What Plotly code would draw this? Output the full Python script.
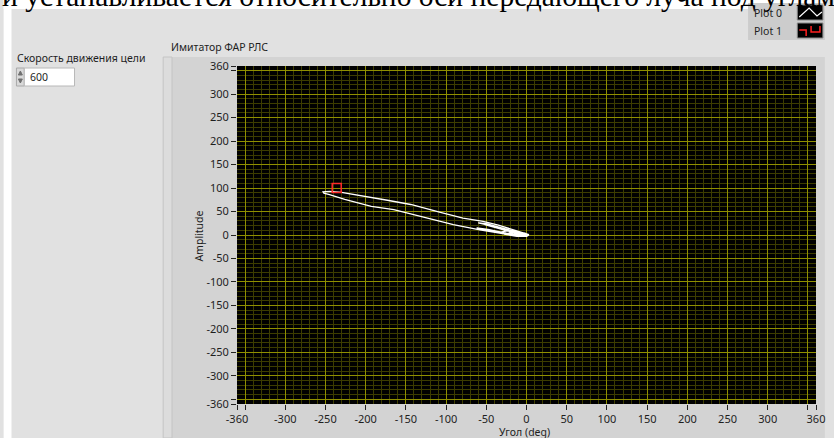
import plotly.graph_objects as go

# ---------------- data ----------------
plot0_x = [3, -10, -22, -35, -54, -79, -107, -144, -173, -205, -230, -245, -253, -252, -245, -226,
           -193, -165, -128, -91, -58, -40, -22, -8, 0, 3,
           -2, -20, -45, -60, -50, -30, -10, 0, -15, -38, -62, -48, -25, -8, 2, -5, -30, -52,
           -40, -18, -3, 3, -6, -14, -24, -32, -20, -10, 1, -4, -16, -28, -12, 2]
plot0_y = [1, 8, 15, 21, 29, 36, 48, 65, 74, 84, 91, 93, 92, 89, 86, 76,
           61, 54, 38, 22, 11, 6, 1, -3, -3, 0,
           4, 10, 20, 26, 24, 15, 5, 1, 2, 6, 15, 12, 4, -1, -2, 3, 12, 22,
           17, 6, -1, 1, 4, 7, 9, 6, 2, -2, 0, 3, 6, 2, -3, -1]
plot1_x = [-236]
plot1_y = [100]

x_tickvals = [-360, -350, -300, -250, -200, -150, -100, -50, 0, 50, 100, 150, 200, 250, 300, 350, 360]
x_ticktext = ["-360", "", "-300", "-250", "-200", "-150", "-100", "-50", "0", "50", "100",
              "150", "200", "250", "300", "", "360"]
y_tickvals = x_tickvals
y_ticktext = x_ticktext

# ---------------- layout helpers ----------------
W, H = 834, 438
L, R, T, B = 237, 825, 66, 404
def X(px):
    return (px - L) / (R - L)
def Y(py):
    return (B - py) / (B - T)

FONT = "Noto Sans"
TXT = "#1e1e1e"

fig = go.Figure()
fig.add_trace(go.Scatter(x=plot0_x, y=plot0_y, mode="lines", name="Plot 0",
                         line=dict(color="white", width=1.3), showlegend=False))
fig.add_trace(go.Scatter(x=plot1_x, y=plot1_y, mode="markers", name="Plot 1",
                         marker=dict(symbol="square-open", size=9, color="#ff2a2a",
                                     line=dict(width=1.5, color="#ff2a2a")),
                         showlegend=False))

shapes = []
def rect(x0, y0, x1, y1, fill, line=None, lw=0):
    shapes.append(dict(type="rect", xref="paper", yref="paper", layer="below",
                       x0=X(x0), x1=X(x1), y0=Y(y0), y1=Y(y1), fillcolor=fill,
                       line=dict(color=line or fill, width=lw)))
def path(pts, color, lw=1.5, fill=None, layer="above"):
    d = "M " + " L ".join(f"{X(a):.5f},{Y(b):.5f}" for a, b in pts)
    if fill:
        d += " Z"
    shapes.append(dict(type="path", xref="paper", yref="paper", layer=layer, path=d,
                       line=dict(color=color, width=lw), fillcolor=fill or "rgba(0,0,0,0)"))

# white document margins
rect(0, 0, W, 9, "white")
rect(0, 0, 8, H, "white")
# graph frame
rect(162, 57, W, H, "#d3d3d3")
rect(162, 57, 171, H, "#dcdcdc", "#c4c4c4", 1)
# plot area
rect(L, T, R, B, "black")
# legend panel
rect(756, 3, W, 40, "#cccccc")
rect(806, 5, 832, 20, "black", "#888888", 1)
rect(806, 23, 832, 38, "black", "#888888", 1)
# numeric control
rect(13, 68, 21, 86, "#d9d9d9", "#a8a8a8", 1)
rect(21, 68, 72, 86, "white", "#b8b8b8", 1)

path([(808, 17), (818, 8), (826, 16), (831, 12)], "white", 1.2)
path([(808, 30), (815, 30), (815, 36)], "#ff2020", 1.5)
path([(820, 26), (820, 32), (829, 32), (829, 26)], "#ff2020", 1.5)
path([(15, 75), (19, 75), (17, 71)], "#707070", 1, fill="#707070")
path([(15, 79), (19, 79), (17, 83)], "#707070", 1, fill="#707070")

ann = []
def text(s, px, py, size=11, xanchor="left", yanchor="middle", color=TXT, family=FONT, angle=0):
    ann.append(dict(text=s, x=X(px), y=Y(py), xref="paper", yref="paper", showarrow=False,
                    xanchor=xanchor, yanchor=yanchor, textangle=angle,
                    font=dict(family=family, size=size, color=color)))

text("и устанавливается относительно оси передающего луча под углами", -4, -4, size=29.5,
     family="Liberation Serif", color="black")
text("Скорость движения цели", 12, 58, size=10.5)
text("600", 25, 77, size=10.5)
text("Имитатор ФАР РЛС", 168, 47, size=10.5)
text("Plot 0", 793, 13, size=10.5, xanchor="right")
text("Plot 1", 793, 31, size=10.5, xanchor="right")
text("Угол (deg)", 529, 432, size=10.5, xanchor="center")
text("Amplitude", 198, 236, size=10.5, xanchor="center", angle=-90)

axis_common = dict(showline=False, zeroline=False, ticks="outside", ticklen=5,
                   tickcolor="#222222", tickwidth=1, tickmode="array",
                   ticklabeloverflow="allow",
                   showgrid=True, gridcolor="#8f8f00", gridwidth=1,
                   tickfont=dict(family=FONT, size=11, color=TXT),
                   minor=dict(dtick=10, tick0=0, showgrid=True, gridcolor="#3c3c00",
                              gridwidth=1, ticks=""))

fig.update_layout(
    width=W, height=H,
    margin=dict(l=L, r=W - R, t=T, b=H - B, pad=0),
    paper_bgcolor="#e1e1e1", plot_bgcolor="black",
    xaxis=dict(range=[-360, 360], tickvals=x_tickvals, ticktext=x_ticktext, **axis_common),
    yaxis=dict(range=[-360, 360], tickvals=y_tickvals, ticktext=y_ticktext, **axis_common),
    shapes=shapes, annotations=ann, showlegend=False,
)
fig.write_html(
    "out.html", config={"displayModeBar": False},
    post_script=("document.documentElement.style.overflow='hidden';"
                 "document.body.style.margin='0';document.body.style.overflow='hidden';"
                 "document.querySelectorAll('.plotly-graph-div, .svg-container')"
                 ".forEach(function(e){e.style.overflow='hidden';});"))
